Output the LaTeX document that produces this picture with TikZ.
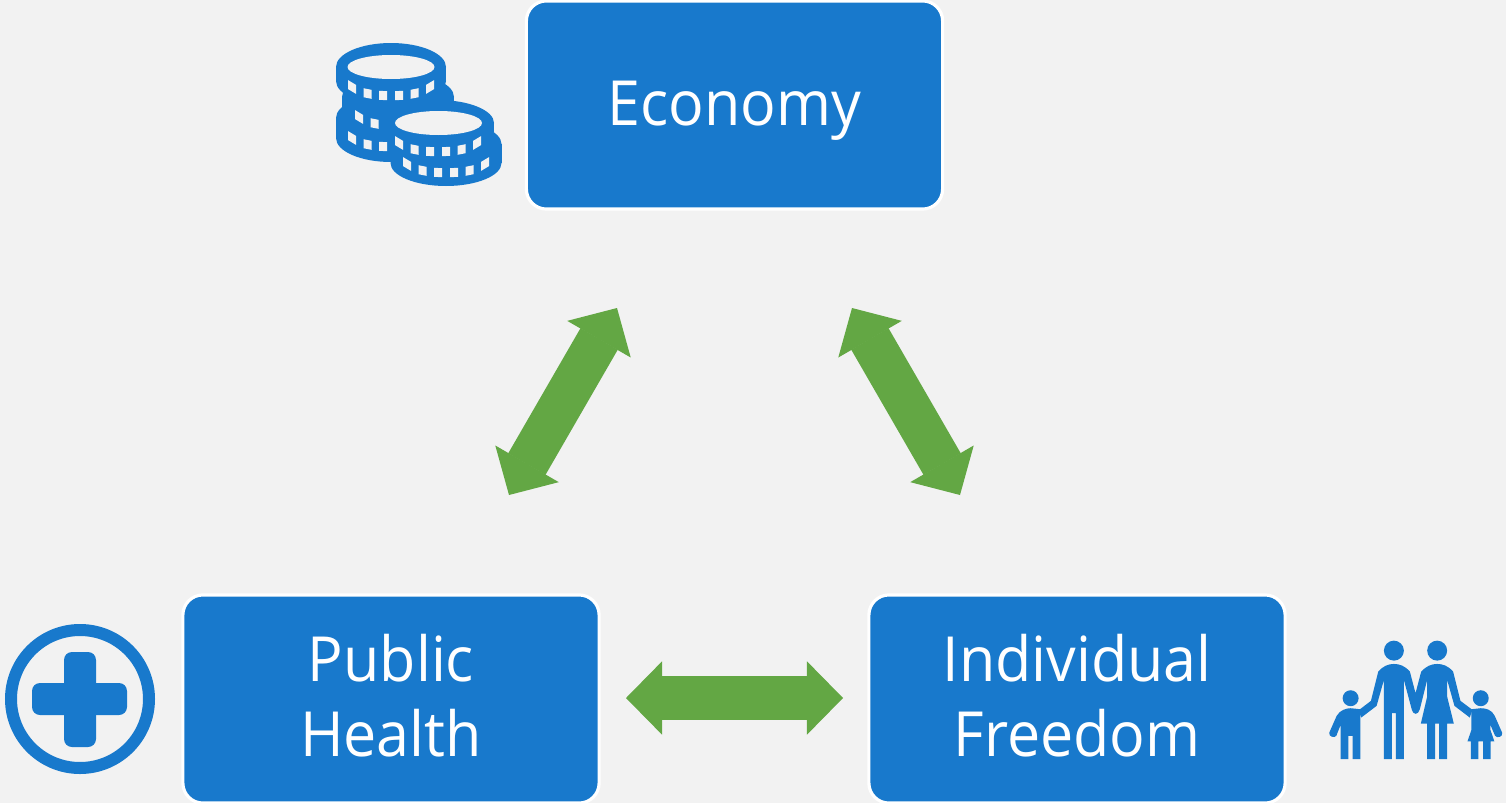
\documentclass[tikz,border=0pt]{standalone}
\usepackage{fontspec}
\setmainfont{Open Sans}[FakeStretch=0.95]
\usepackage{xcolor}
\usetikzlibrary{arrows.meta}
\definecolor{iconblue}{HTML}{1879CC}
\definecolor{arrowgreen}{HTML}{63A744}
\definecolor{pagegrey}{HTML}{F2F2F2}
\tikzset{
  topicbox/.style={draw=white,line width=0.9pt,fill=iconblue,rounded corners=0.2cm,
    minimum width=4.16cm,minimum height=2.08cm,align=center,text=white,
    font=\fontsize{17.7}{21.3}\selectfont},
  linkarrow/.style={draw=arrowgreen,line width=0.43cm,
    {Triangle[length=0.36cm,width=0.73cm,line width=0.4pt]}-{Triangle[length=0.36cm,width=0.73cm,line width=0.4pt]}},
}
% one coin: x, y of the top face, half width, half height, thickness
\newcommand{\coinbody}[5]{
  \fill[iconblue] (#1,#2) ellipse [x radius=#3,y radius=#4];
  \fill[iconblue] (#1,#2+#5) ellipse [x radius=#3,y radius=#4];
  \fill[iconblue] (#1-#3,#2) rectangle (#1+#3,#2+#5);
}
\newcommand{\coinrow}[2]{
  \foreach \dx/\dy/\ang in {-39/20/-0.6,-23.5/26.5/-0.2,-8/28.5/-0.05,8/28.5/0.05,23.5/26.5/0.2,39/20/0.6}{
    \fill[pagegrey,shift={(#1+\dx,#2+\dy)},yslant=\ang] (-4,-4.5) rectangle (4,4.5);
  }
}
\begin{document}
\begin{tikzpicture}[x=0.01cm,y=-0.01cm]
    \fill[pagegrey] (0,0) rectangle (1506,803);
    \useasboundingbox (0,0) rectangle (1506,803);

    \node[topicbox,text height=0.6cm,text depth=0.2cm] (economy) at (734.5,105) {Economy};
    \node[topicbox] (health) at (391,699) {Public\\Health\rule[-0.08cm]{0pt}{0.08cm}};
    \node[topicbox] (freedom) at (1077,699) {Individual\\Freedom\rule[-0.08cm]{0pt}{0.08cm}};

    \coordinate (econleft) at (617,308);
    \coordinate (healthtop) at (509,495);
    \coordinate (econright) at (852,308);
    \coordinate (freedomtop) at (960,495);
    \coordinate (healthright) at (626,698);
    \coordinate (freedomleft) at (843,698);
    \draw[linkarrow] (econleft) to (healthtop);
    \draw[linkarrow] (econright) to (freedomtop);
    \draw[linkarrow] (healthright) to (freedomleft);

    % coins
    \begin{scope}
      \coinbody{391}{67}{55}{24}{14}
      \coinbody{398}{97}{56}{24}{10}
      \coinbody{391}{118}{55}{24}{20}
      \fill[pagegrey] (391,67) ellipse [x radius=43.5,y radius=12];
      \coinrow{391}{67}
      \coinrow{398}{97}
      \coinrow{391}{118}
      \coinbody{438}{123}{56}{23}{8}
      \coinbody{446}{144}{55.5}{23}{19}
      \fill[pagegrey] (438.5,123) ellipse [x radius=43.5,y radius=12];
      \coinrow{438}{123}
      \coinrow{446}{144}
    \end{scope}

    % medical cross
    \draw[iconblue,line width=0.12cm] (80,699) circle [radius=69];
    \fill[iconblue,rounded corners=0.08cm] (64,652) rectangle (96,747);
    \fill[iconblue,rounded corners=0.08cm] (32,683) rectangle (127,715);

    % family
    \begin{scope}[shift={(1320,630)},x=0.00333cm,y=-0.00333cm]
      \fill[iconblue] (222,62) circle [radius=30];
      \fill[iconblue] (352,62) circle [radius=30];
      \fill[iconblue] (92,205) circle [radius=24];
      \fill[iconblue] (483,205) circle [radius=24];
      \fill[iconblue] (192,388) -- (192,150) -- (170,228) -- (124,263) -- (115,242) -- (153,213) -- (175,125)
        .. controls (190,108) and (205,102) .. (222,102) .. controls (240,102) and (255,108) .. (270,125)
        -- (287,190) -- (304,125) .. controls (320,108) and (335,102) .. (352,102)
        .. controls (370,102) and (385,108) .. (400,125) -- (422,213) -- (458,240) -- (450,263) -- (404,228)
        -- (382,150) -- (382,200) -- (402,281) -- (382,281) -- (382,388) -- (358,388) -- (358,281) -- (346,281)
        -- (346,388) -- (322,388) -- (322,281) -- (303,281) -- (322,200) -- (322,150) -- (300,238)
        .. controls (295,256) and (280,256) .. (276,240) -- (252,150) -- (252,388) -- (228,388) -- (228,250)
        -- (216,250) -- (216,388) -- cycle;
      \fill[iconblue] (62,388) -- (62,285) -- (49,318) .. controls (44,326) and (24,320) .. (28,308) -- (50,258)
        .. controls (60,240) and (80,235) .. (92,235) -- (121,238) -- (121,388) -- (98,388) -- (98,318)
        -- (85,318) -- (85,388) -- cycle;
      \fill[iconblue] (455,238) -- (483,235) .. controls (500,235) and (516,240) .. (525,258) -- (547,308)
        .. controls (552,320) and (532,327) .. (526,318) -- (512,285) -- (512,300) -- (524,335) -- (513,335)
        -- (513,388) -- (490,388) -- (490,335) -- (476,335) -- (476,388) -- (453,388) -- (453,335) -- (443,335)
        -- (455,300) -- cycle;
    \end{scope}
\end{tikzpicture}
\end{document}
